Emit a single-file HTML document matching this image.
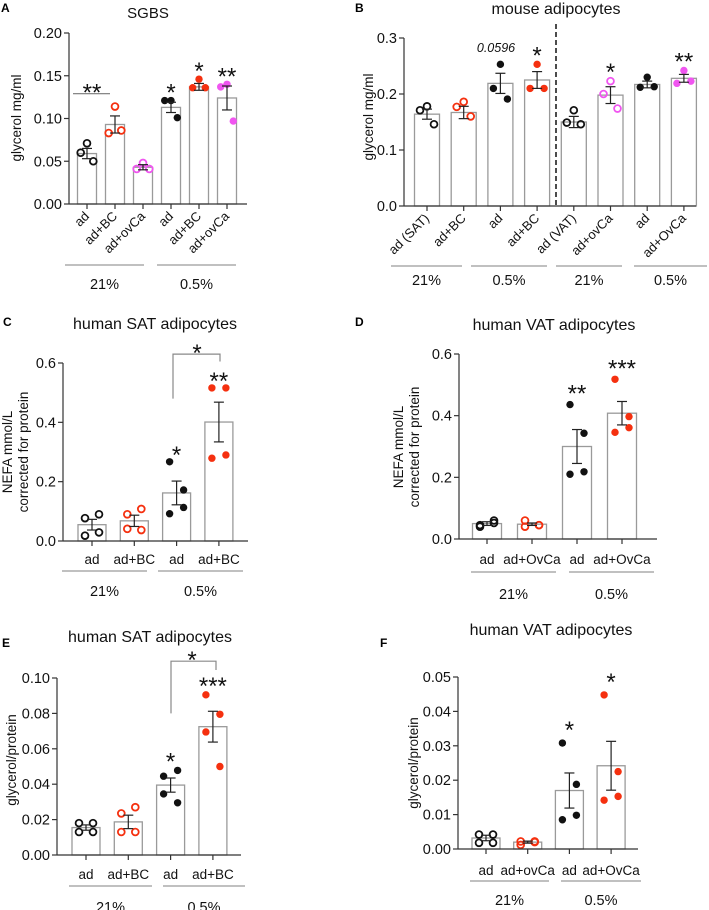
<!DOCTYPE html>
<html><head><meta charset="utf-8">
<style>
html,body{margin:0;padding:0;background:#fff;}
svg{display:block;font-family:"Liberation Sans",Arial,sans-serif;}
</style></head>
<body>
<svg id="fig" width="709" height="910" viewBox="0 0 709 910" xmlns="http://www.w3.org/2000/svg"></svg>
<script>
// ---------- Panel A data ----------
const aCats = ["ad","ad+BC","ad+ovCa","ad","ad+BC","ad+ovCa"];
const aMeans = [0.059,0.093,0.043,0.113,0.137,0.124];
const aErr = [0.006,0.010,0.003,0.006,0.004,0.014];
const aPoints = [[0.071,0.060,0.050],[0.114,0.083,0.086],[0.048,0.041,0.041],[0.121,0.121,0.101],[0.146,0.136,0.136],[0.140,0.137,0.097]];
const aTicks = [0,0.05,0.10,0.15,0.20];
const aTickLabels = ["0.00","0.05","0.10","0.15","0.20"];
const aStars = ["","","","*","*","**"];
// ---------- Panel B data ----------
const bCats = ["ad (SAT)","ad+BC","ad","ad+BC","ad (VAT)","ad+ovCa","ad","ad+OvCa"];
const bMeans = [0.164,0.167,0.219,0.225,0.150,0.198,0.217,0.228];
const bErr = [0.009,0.011,0.018,0.015,0.010,0.015,0.006,0.007];
const bPoints = [[0.178,0.171,0.146],[0.186,0.177,0.160],[0.253,0.210,0.191],[0.253,0.210,0.210],[0.171,0.149,0.146],[0.223,0.200,0.174],[0.230,0.212,0.213],[0.242,0.219,0.223]];
const bTicks = [0,0.1,0.2,0.3];
const bTickLabels = ["0.0","0.1","0.2","0.3"];
const bStars = ["","","","*","","*","","**"];
// ---------- Panel C data ----------
const cCats = ["ad","ad+BC","ad","ad+BC"];
const cMeans = [0.055,0.068,0.162,0.401];
const cErr = [0.018,0.019,0.040,0.067];
const cPoints = [[0.077,0.090,0.018,0.029],[0.090,0.108,0.041,0.037],[0.267,0.172,0.092,0.113],[0.516,0.516,0.279,0.290]];
const cTicks = [0,0.2,0.4,0.6];
const cTickLabels = ["0.0","0.2","0.4","0.6"];
const cStars = ["","","*","**"];
// ---------- Panel D data ----------
const dCats = ["ad","ad+OvCa","ad","ad+OvCa"];
const dMeans = [0.050,0.048,0.300,0.408];
const dErr = [0.006,0.004,0.055,0.038];
const dPoints = [[0.045,0.060,0.040,0.052],[0.060,0.045,0.040,0.045],[0.436,0.343,0.210,0.218],[0.518,0.397,0.346,0.361]];
const dTicks = [0,0.2,0.4,0.6];
const dTickLabels = ["0.0","0.2","0.4","0.6"];
const dStars = ["","","**","***"];
// ---------- Panel E data ----------
const eCats = ["ad","ad+BC","ad","ad+BC"];
const eMeans = [0.0155,0.0187,0.0395,0.0725];
const eErr = [0.0015,0.0038,0.0040,0.0087];
const ePoints = [[0.018,0.018,0.013,0.013],[0.0235,0.027,0.013,0.013],[0.0445,0.0478,0.0345,0.0295],[0.0905,0.0795,0.0695,0.050]];
const eTicks = [0,0.02,0.04,0.06,0.08,0.10];
const eTickLabels = ["0.00","0.02","0.04","0.06","0.08","0.10"];
const eStars = ["","","*","***"];
// ---------- Panel F data ----------
const fCats = ["ad","ad+ovCa","ad","ad+OvCa"];
const fMeans = [0.0032,0.0020,0.0170,0.0242];
const fErr = [0.0008,0.0003,0.0051,0.0071];
const fPoints = [[0.0042,0.0042,0.0018,0.0018],[0.0012,0.0022,0.0022,0.0020],[0.0308,0.0188,0.0085,0.0098],[0.0448,0.0225,0.0142,0.0153]];
const fTicks = [0,0.01,0.02,0.03,0.04,0.05];
const fTickLabels = ["0.00","0.01","0.02","0.03","0.04","0.05"];
const fStars = ["","","*","*"];

const BLACK="#111", RED="#f5300f", MAG="#f055f0";
const STAR=24;
const svg=document.getElementById('fig');
const NS="http://www.w3.org/2000/svg";
function mk(tag,attrs,parent){const e=document.createElementNS(NS,tag);for(const k in attrs)e.setAttribute(k,attrs[k]);(parent||svg).appendChild(e);return e;}
function txt(s,attrs,parent){const e=mk('text',attrs,parent);e.textContent=s;return e;}

function panel(cfg){
  const g=mk('g',{});
  
  
  const y=v=>cfg.y0-(v/cfg.ymax)*(cfg.y0-cfg.ytop);
  const n=cfg.cats.length;
  const xs=[];for(let i=0;i<n;i++)xs.push(cfg.x1+i*cfg.dx);
  const L=txt(cfg.letter,{x:cfg.letterPos[0],y:cfg.letterPos[1],'font-size':12,'font-weight':'bold',fill:'#000'},g);
  
  
  const T=txt(cfg.title,{x:cfg.titlePos[0],y:cfg.titlePos[1],'font-size':cfg.titleSize||16,'text-anchor':'middle',fill:'#111'},g);
  
  
  for(let i=0;i<n;i++){
    const b=mk('rect',{x:xs[i]-cfg.bw/2,y:y(cfg.means[i]),width:cfg.bw,height:cfg.y0-y(cfg.means[i]),fill:'#fff',stroke:'#9a9a9a','stroke-width':1.3},g);
    
    
  }
  for(let i=0;i<n;i++){
    const pts=cfg.points[i];
    const col=cfg.colors[i];
    const filled=cfg.filled[i];
    const off=pts.length===3?[0,-7,7]:[-7,7,-7,7];
    pts.forEach((v,j)=>{
      const c=mk('circle',{cx:xs[i]+off[j]*(cfg.jit||1),cy:y(v),r:filled?3.7:3.4,fill:filled?col:'none',stroke:col,'stroke-width':filled?0:1.8},g);
      
      
    });
  }
  for(let i=0;i<n;i++){
    const m=cfg.means[i],e=cfg.err[i];
    const eg=mk('g',{stroke:'#222','stroke-width':1.2},g);
    
    
    mk('line',{x1:xs[i],x2:xs[i],y1:y(m-e),y2:y(m+e)},eg);
    mk('line',{x1:xs[i]-5,x2:xs[i]+5,y1:y(m-e),y2:y(m-e)},eg);
    mk('line',{x1:xs[i]-5,x2:xs[i]+5,y1:y(m+e),y2:y(m+e)},eg);
  }
  const ax=mk('g',{stroke:'#333','stroke-width':1.2},g);
  
  
  mk('line',{x1:cfg.ax,x2:cfg.ax,y1:cfg.ytop,y2:cfg.y0},ax);
  mk('line',{x1:cfg.ax,x2:cfg.xend,y1:cfg.y0,y2:cfg.y0},ax);
  cfg.ticks.forEach((t,k)=>{
    mk('line',{x1:cfg.ax-5,x2:cfg.ax,y1:y(t),y2:y(t)},ax);
    const tl=txt(cfg.tickLabels[k],{x:cfg.ax-7,y:y(t)+5,'font-size':14.5,'text-anchor':'end',fill:'#111',stroke:'none'},g);
    
    
  });
  for(let i=0;i<n;i++){
    mk('line',{x1:xs[i],x2:xs[i],y1:cfg.y0,y2:cfg.y0+5},ax);
    let cl;
    if(cfg.rotate){
      const lx=xs[i]+3,ly=cfg.y0+13;
      cl=txt(cfg.cats[i],{x:lx,y:ly,'font-size':13,'text-anchor':'end',fill:'#111',transform:`rotate(-45 ${lx} ${ly})`},g);
    } else {
      cl=txt(cfg.cats[i],{x:xs[i],y:cfg.catY,'font-size':13.5,'text-anchor':'middle',fill:'#111'},g);
    }
    
    
  }
  for(let i=0;i<n;i++){
    if(!cfg.stars[i])continue;
    const s=txt(cfg.stars[i],{x:xs[i],y:y(Math.max(...cfg.points[i],cfg.means[i]+cfg.err[i]))-cfg.starGap+13,'font-size':STAR,'text-anchor':'middle',fill:'#111'},g);
    
    
  }
  cfg.groups.forEach(gr=>{
    const gl=mk('line',{x1:gr[0],x2:gr[1],y1:cfg.groupY,y2:cfg.groupY,stroke:'#9a9a9a','stroke-width':1.2},g);
    
    
    const gt=txt(gr[2],{x:(gr[0]+gr[1])/2,y:cfg.groupTextY,'font-size':14.5,'text-anchor':'middle',fill:'#111'},g);
    
    
  });
  const yl=txt('',{transform:`translate(${cfg.ylabX} ${cfg.ylabY}) rotate(-90)`,'font-size':13.5,'text-anchor':'middle',fill:'#111'},g);
  
  
  cfg.ylab.forEach((s,k)=>{const ts=mk('tspan',{x:0,dy:k?16:0},yl);ts.textContent=s;});
  return {g,y,xs};
}

let A=panel({name:'panel-a-sgbs',letter:'A',letterPos:[1,12],title:'SGBS',titleSize:15,titlePos:[148,18],
 cats:aCats,means:aMeans,err:aErr,points:aPoints,ticks:aTicks,tickLabels:aTickLabels,stars:aStars,
 colors:[BLACK,RED,MAG,BLACK,RED,MAG],filled:[0,0,0,1,1,1],
 ax:69,xend:247,y0:204,ytop:33,ymax:0.2,x1:87,dx:28,bw:19,rotate:true,starGap:13,
 groups:[[65,144,'21%'],[157,236,'0.5%']],groupY:265,groupTextY:289,ylab:['glycerol mg/ml'],ylabX:21,ylabY:118,jit:0.9});
(function(){const l=mk('line',{x1:73,x2:110,y1:A.y(0.129),y2:A.y(0.129),stroke:'#777','stroke-width':1.2},A.g);

const s=txt('**',{x:92,y:A.y(0.129)-6+13,'font-size':STAR,'text-anchor':'middle',fill:'#111'},A.g);
})();

let B=panel({name:'panel-b-mouse',letter:'B',letterPos:[355,12],title:'mouse adipocytes',titlePos:[556,14],
 cats:bCats,means:bMeans,err:bErr,points:bPoints,ticks:bTicks,tickLabels:bTickLabels,stars:bStars,
 colors:[BLACK,RED,BLACK,RED,BLACK,MAG,BLACK,MAG],filled:[0,0,1,1,0,0,1,1],
 ax:404,xend:696,y0:206,ytop:38,ymax:0.3,x1:427,dx:36.7,bw:25,rotate:true,starGap:14,
 groups:[[391,462,'21%'],[471,547,'0.5%'],[556,622,'21%'],[634,707,'0.5%']],groupY:266,groupTextY:285,ylab:['glycerol mg/ml'],ylabX:373,ylabY:117});
(function(){const d=mk('line',{x1:556,x2:556,y1:24,y2:206,stroke:'#111','stroke-width':1.5,'stroke-dasharray':'5,3'},B.g);

const p=txt('0.0596',{x:496,y:52,'font-size':12.5,'font-style':'italic','text-anchor':'middle',fill:'#111'},B.g);
})();

let C=panel({name:'panel-c-human-sat-nefa',letter:'C',letterPos:[3,326],title:'human SAT adipocytes',titlePos:[155,329],
 cats:cCats,means:cMeans,err:cErr,points:cPoints,ticks:cTicks,tickLabels:cTickLabels,stars:cStars,
 colors:[BLACK,RED,BLACK,RED],filled:[0,0,1,1],
 ax:63,xend:248,y0:541,ytop:363,ymax:0.6,x1:92,dx:42.3,bw:28,rotate:false,catY:564,starGap:12,
 groups:[[62,147,'21%'],[158,243,'0.5%']],groupY:571,groupTextY:596,ylab:['NEFA mmol/L','corrected for protein'],ylabX:12,ylabY:452});
(function(){const y=C.y;const p=mk('polyline',{points:`173,${y(0.48)} 173,${y(0.63)} 220,${y(0.63)} 220,${y(0.605)}`,fill:'none',stroke:'#888','stroke-width':1.2},C.g);

const s=txt('*',{x:197,y:y(0.63)-6+13,'font-size':STAR,'text-anchor':'middle',fill:'#111'},C.g);
})();

panel({name:'panel-d-human-vat-nefa',letter:'D',letterPos:[355,326],title:'human VAT adipocytes',titlePos:[554,330],
 cats:dCats,means:dMeans,err:dErr,points:dPoints,ticks:dTicks,tickLabels:dTickLabels,stars:dStars,
 colors:[BLACK,RED,BLACK,RED],filled:[0,0,1,1],
 ax:459,xend:657,y0:539,ytop:354,ymax:0.6,x1:487,dx:45,bw:29,rotate:false,catY:564,starGap:16,
 groups:[[471,556,'21%'],[569,654,'0.5%']],groupY:572,groupTextY:599,ylab:['NEFA mmol/L','corrected for protein'],ylabX:403,ylabY:447});

let E=panel({name:'panel-e-human-sat-glycerol',letter:'E',letterPos:[2,647],title:'human SAT adipocytes',titlePos:[150,642],
 cats:eCats,means:eMeans,err:eErr,points:ePoints,ticks:eTicks,tickLabels:eTickLabels,stars:eStars,
 colors:[BLACK,RED,BLACK,RED],filled:[0,0,1,1],
 ax:57,xend:241,y0:855,ytop:678,ymax:0.1,x1:86,dx:42.3,bw:28,rotate:false,catY:879,starGap:14,
 groups:[[69,152,'21%'],[163,245,'0.5%']],groupY:886,groupTextY:912,ylab:['glycerol/protein'],ylabX:16,ylabY:760});
(function(){const y=E.y;const p=mk('polyline',{points:`171,${y(0.080)} 171,${y(0.1095)} 216,${y(0.1095)} 216,${y(0.1045)}`,fill:'none',stroke:'#888','stroke-width':1.2},E.g);

const s=txt('*',{x:192,y:y(0.1095)-6+13,'font-size':STAR,'text-anchor':'middle',fill:'#111'},E.g);
})();

panel({name:'panel-f-human-vat-glycerol',letter:'F',letterPos:[380,647],title:'human VAT adipocytes',titlePos:[551,635],
 cats:fCats,means:fMeans,err:fErr,points:fPoints,ticks:fTicks,tickLabels:fTickLabels,stars:fStars,
 colors:[BLACK,RED,BLACK,RED],filled:[0,0,1,1],
 ax:458,xend:638,y0:849,ytop:677,ymax:0.05,x1:486,dx:41.7,bw:28,rotate:false,catY:875,starGap:18,
 groups:[[470,549,'21%'],[561,641,'0.5%']],groupY:881,groupTextY:905,ylab:['glycerol/protein'],ylabX:418,ylabY:763});
</script>
</body></html>
